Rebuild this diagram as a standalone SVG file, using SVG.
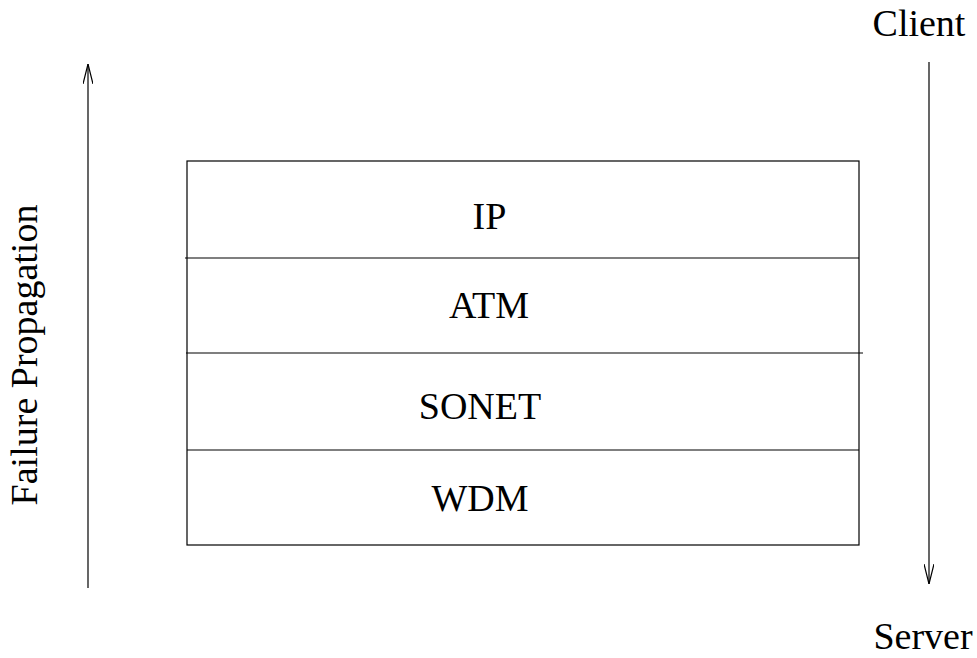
<svg xmlns="http://www.w3.org/2000/svg" width="977" height="658" viewBox="0 0 977 658">
  <style>
    .ln { stroke: #000; stroke-width: 1.2; fill: none; }
    .t { font-family: "Liberation Serif", "Times New Roman", serif; font-size: 38px; fill: #000; }
  </style>
  <defs>
    <!-- open V arrowhead, tip at the line end -->
    <marker id="vee" viewBox="0 0 20 10" refX="20" refY="5" markerWidth="20" markerHeight="10" markerUnits="userSpaceOnUse" orient="auto">
      <path d="M0,0 L20,5 L0,10" fill="none" stroke="#000" stroke-width="1.2"/>
    </marker>
  </defs>
  <rect width="977" height="658" fill="#fff"/>

  <!-- stacked layers -->
  <g id="layer-ip">
    <text class="t" x="489.5" y="229" text-anchor="middle">IP</text>
  </g>
  <g id="layer-atm">
    <text class="t" x="489" y="318" text-anchor="middle">ATM</text>
  </g>
  <g id="layer-sonet">
    <text class="t" x="480" y="419" text-anchor="middle">SONET</text>
  </g>
  <g id="layer-wdm">
    <text class="t" x="480" y="511" text-anchor="middle">WDM</text>
  </g>
  <g id="stack-outline">
    <rect class="ln" x="187" y="161" width="672" height="384"/>
    <line class="ln" x1="185" y1="258" x2="859" y2="258"/>
    <line class="ln" x1="186" y1="353" x2="863" y2="353"/>
    <line class="ln" x1="187" y1="450" x2="859" y2="450"/>
  </g>

  <!-- end labels -->
  <g id="client"><text class="t" x="919" y="36" text-anchor="middle">Client</text></g>
  <g id="server"><text class="t" x="923" y="649" text-anchor="middle">Server</text></g>
  <g id="failure-label">
    <text class="t" transform="translate(37,355) rotate(-90)" text-anchor="middle">Failure Propagation</text>
  </g>

  <!-- direction arrows -->
  <g id="connectors">
    <line class="ln" x1="88" y1="588" x2="88" y2="64" marker-end="url(#vee)"/>
    <line class="ln" x1="929" y1="62" x2="929" y2="584" marker-end="url(#vee)"/>
  </g>
</svg>
